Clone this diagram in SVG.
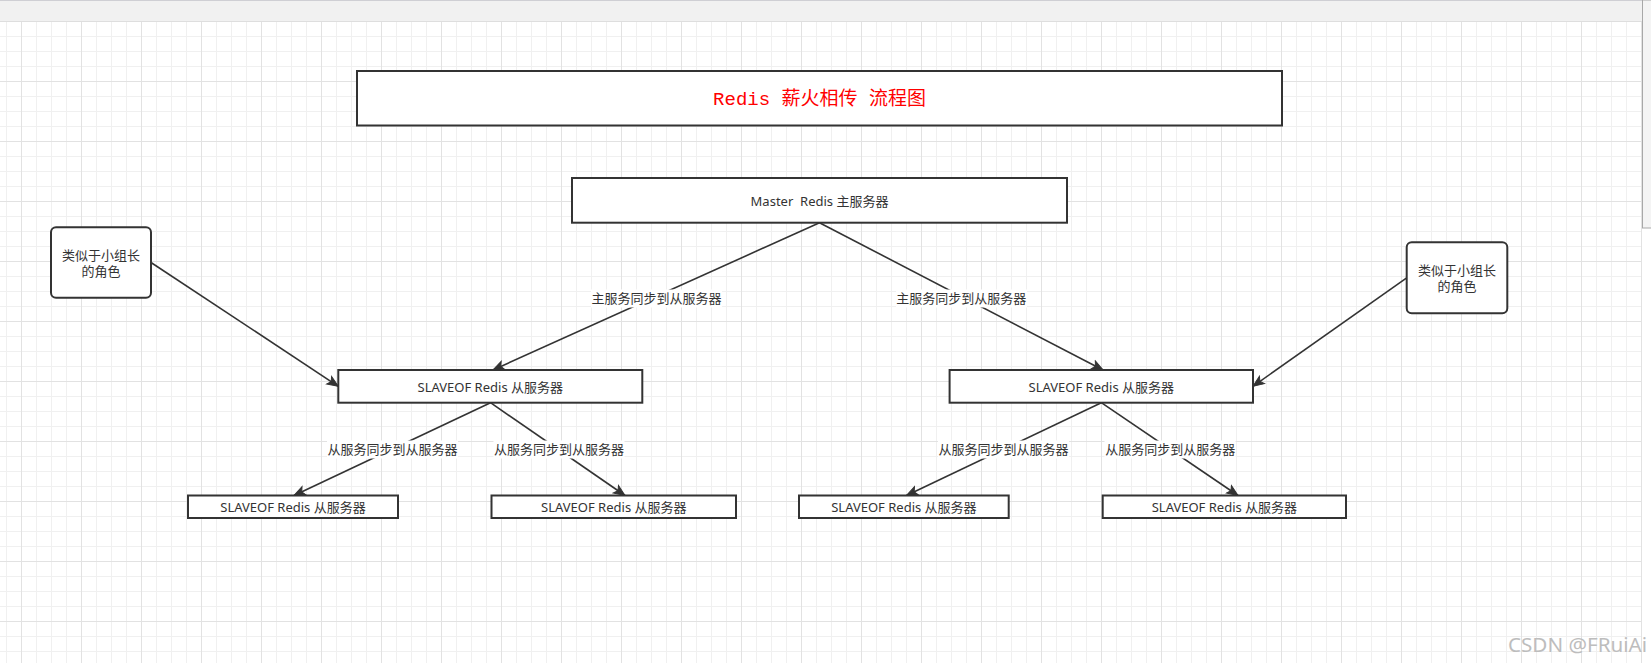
<svg xmlns="http://www.w3.org/2000/svg" width="1651" height="663" viewBox="0 0 1651 663">
<style>
.box{fill:#fff;stroke:#333;stroke-width:2}
.t{font-family:"Noto Sans","Noto Sans CJK SC",sans-serif;font-size:13px;fill:#333;text-anchor:middle}
.edge{fill:none;stroke:#333;stroke-width:1.6;marker-end:url(#arrow)}
.lbg{fill:#fff}
</style>
<defs>
<pattern id="grid" patternUnits="userSpaceOnUse" x="21" y="21" width="60" height="60">
<path d="M15.5 0V60M30.5 0V60M45.5 0V60M0 15.5H60M0 30.5H60M0 45.5H60" stroke="#f0f0f0" stroke-width="1" fill="none"/>
<path d="M0.5 0V60M0 0.5H60" stroke="#e2e2e2" stroke-width="1" fill="none"/>
</pattern>
<marker id="arrow" markerUnits="userSpaceOnUse" viewBox="-12 -6 14 12" refX="0" refY="0" markerWidth="14" markerHeight="12" orient="auto">
<path d="M-11,-4.5 L0,0 L-11,4.5 L-8.5,0 Z" fill="#333" stroke="#333" stroke-width="1"/>
</marker>
</defs>
<rect x="0" y="0" width="1651" height="663" fill="#fff"/>
<rect x="0" y="21" width="1642" height="642" fill="url(#grid)"/>
<g id="topbar">
<rect x="0" y="0" width="1651" height="21" fill="#f1f1f1"/>
<path d="M0 0.5H1651" stroke="#cfcfd4" stroke-width="1"/>
<path d="M0 21.5H1642" stroke="#dedede" stroke-width="1"/>
</g>
<g id="scrollbar">
<rect x="1642.5" y="0" width="9" height="228" fill="#f4f4f4" stroke="#a8a8a8" stroke-width="1"/>
</g>

<g id="connectors">
<path class="edge" d="M819.5,222.7 L493,370"/>
<path class="edge" d="M819.5,222.7 L1103,370"/>
<path class="edge" d="M151,262.5 L338.3,386.3"/>
<path class="edge" d="M1406.7,277.8 L1253,386.3"/>
<path class="edge" d="M490.5,402.7 L294,495.5"/>
<path class="edge" d="M490.5,402.7 L625,495.5"/>
<path class="edge" d="M1101.3,402.7 L906.5,495.5"/>
<path class="edge" d="M1101.3,402.7 L1238,495.5"/>
<g id="edge-labels">
<rect class="lbg" x="591" y="289.5" width="131" height="18"/>
<text class="t" x="656.4" y="303">主服务同步到从服务器</text>
<rect class="lbg" x="896" y="289.5" width="131" height="18"/>
<text class="t" x="961.3" y="303">主服务同步到从服务器</text>
<rect class="lbg" x="327" y="440.5" width="131" height="18"/>
<text class="t" x="392.6" y="454">从服务同步到从服务器</text>
<rect class="lbg" x="493.5" y="440.5" width="131" height="18"/>
<text class="t" x="559" y="454">从服务同步到从服务器</text>
<rect class="lbg" x="938" y="440.5" width="131" height="18"/>
<text class="t" x="1003.6" y="454">从服务同步到从服务器</text>
<rect class="lbg" x="1104.5" y="440.5" width="131" height="18"/>
<text class="t" x="1170.2" y="454">从服务同步到从服务器</text>
</g>
</g>

<g id="title">
<rect class="box" x="357" y="71" width="925" height="54.5"/>
<text x="819.5" y="104.5" font-family="'Liberation Mono','Noto Sans CJK SC',monospace" font-size="19" fill="#ff0000" text-anchor="middle">Redis 薪火相传 流程图</text>
</g>
<g id="master">
<rect class="box" x="572" y="178" width="495" height="44.7"/>
<text class="t" x="819.5" y="205.5" xml:space="preserve">Master  Redis 主服务器</text>
</g>
<g id="note-left">
<rect class="box" x="51" y="227.3" width="100" height="70.4" rx="5"/>
<text class="t" x="101" y="259.5">类似于小组长</text>
<text class="t" x="101" y="276.3">的角色</text>
</g>
<g id="note-right">
<rect class="box" x="1406.7" y="242.3" width="100.6" height="71" rx="5"/>
<text class="t" x="1457" y="274.5">类似于小组长</text>
<text class="t" x="1457" y="291.3">的角色</text>
</g>
<g id="slave-left">
<rect class="box" x="338.3" y="370" width="304" height="32.7"/>
<text class="t" x="490.3" y="391.5">SLAVEOF Redis 从服务器</text>
</g>
<g id="slave-right">
<rect class="box" x="949.6" y="370" width="303.4" height="32.7"/>
<text class="t" x="1101.3" y="391.5">SLAVEOF Redis 从服务器</text>
</g>
<g id="slave-b1">
<rect class="box" x="188" y="495.5" width="210" height="22.5"/>
<text class="t" x="293" y="511.5">SLAVEOF Redis 从服务器</text>
</g>
<g id="slave-b2">
<rect class="box" x="491.5" y="495.5" width="244.5" height="22.5"/>
<text class="t" x="613.8" y="511.5">SLAVEOF Redis 从服务器</text>
</g>
<g id="slave-b3">
<rect class="box" x="799" y="495.5" width="209.7" height="22.5"/>
<text class="t" x="903.9" y="511.5">SLAVEOF Redis 从服务器</text>
</g>
<g id="slave-b4">
<rect class="box" x="1102.7" y="495.5" width="243.3" height="22.5"/>
<text class="t" x="1224.4" y="511.5">SLAVEOF Redis 从服务器</text>
</g>
<text x="1508" y="651.5" font-family="'Noto Sans',sans-serif" font-size="19" fill="#bdbdbd" textLength="139" lengthAdjust="spacingAndGlyphs">CSDN @FRuiAi</text>
</svg>
